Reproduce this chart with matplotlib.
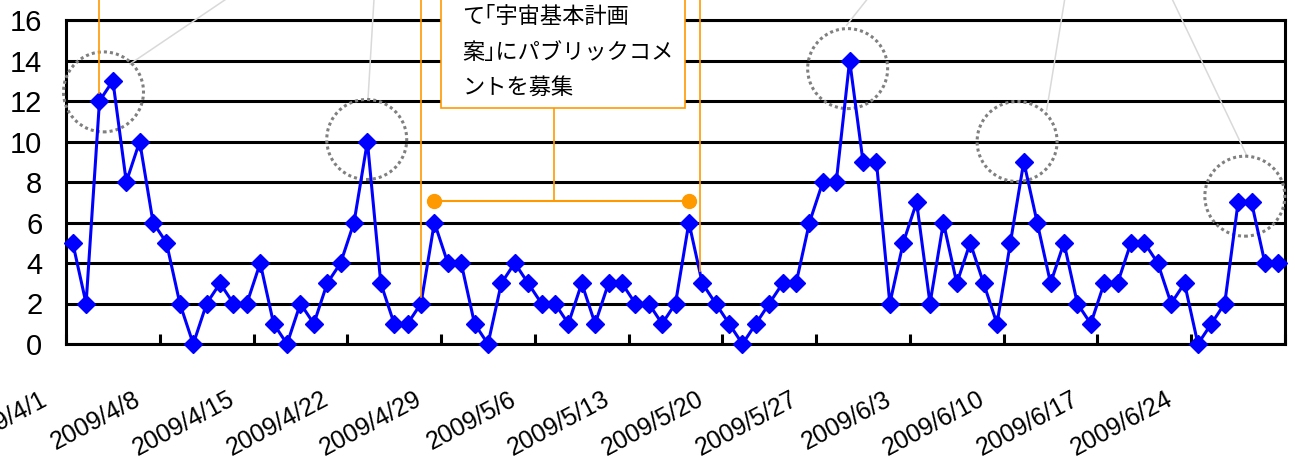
import numpy as np
import matplotlib.pyplot as plt
from matplotlib.patches import Ellipse, Rectangle
from matplotlib.transforms import ScaledTranslation

plt.rcParams['font.family'] = ['Liberation Sans', 'Noto Sans CJK JP']

# daily counts, 2009/4/1 - 2009/6/30
april = [5, 2, 12, 13, 8, 10, 6, 5, 2, 0,
         2, 3, 2, 2, 4, 1, 0, 2, 1, 3,
         4, 6, 10, 3, 1, 1, 2, 6, 4, 4]
may = [1, 0, 3, 4, 3, 2, 2, 1, 3, 1,
       3, 3, 2, 2, 1, 2, 6, 3, 2, 1,
       0, 1, 2, 3, 3, 6, 8, 8, 14, 9, 9]
june = [2, 5, 7, 2, 6, 3, 5, 3, 1, 5,
        9, 6, 3, 5, 2, 1, 3, 3, 5, 5,
        4, 2, 3, 0, 1, 2, 7, 7, 4, 4]
counts = april + may + june

months = [4] * len(april) + [5] * len(may) + [6] * len(june)
days = list(range(1, 31)) + list(range(1, 32)) + list(range(1, 31))
date_labels = [f'2009/{m}/{d}' for m, d in zip(months, days)]

callout_text = ['て｢宇宙基本計画', '案｣にパブリックコメ', 'ントを募集']

orange = '#FF9900'
W, H = 1295, 466

fig = plt.figure(figsize=(W / 100, H / 100), dpi=100)
ax = fig.add_axes([66 / W, 1 - 344 / H, 1219 / W, 324 / H])

x = np.arange(len(counts))
ax.plot(x, counts, color='#0000FF', lw=2.2, marker='D', ms=9,
        zorder=5, clip_on=False)

ax.set_xlim(-0.5, len(counts) - 0.5)
ax.set_ylim(0, 16)
ax.set_yticks(np.arange(0, 17, 2))
ax.yaxis.grid(True, color='black', lw=2.2)
ax.set_axisbelow(True)
ax.tick_params(axis='y', length=0, pad=17, labelsize=21)

# tick marks between weeks, labels on every 7th day
ax.set_xticks(np.arange(-0.5, len(counts) + 0.5, 7))
ax.set_xticklabels([])
ax.tick_params(axis='x', which='major', direction='in', length=7,
               width=2.2, color='black')
ax.set_xticks(x[::7], minor=True)
ax.set_xticklabels(date_labels[::7], minor=True, rotation=28, ha='right',
                   va='top', rotation_mode='anchor', fontsize=18)
ax.tick_params(axis='x', which='minor', length=0, pad=31)
off = ScaledTranslation(-33 / 100, 0, fig.dpi_scale_trans)
for lab in ax.get_xticklabels(minor=True):
    lab.set_transform(lab.get_transform() + off)

for s in ax.spines.values():
    s.set_linewidth(2.2)

# orange leader lines from callouts above (cut off)
for d, y0 in [(2, 12.4), (26, 2.3), (46.8, 3.6)]:
    ax.plot([d, d], [y0, 17.2], color=orange, lw=1.2, clip_on=False, zorder=7)

# comment period bracket
ax.plot([27, 46], [7.05, 7.05], color=orange, lw=1.5, marker='o', ms=10,
        clip_on=False, zorder=7)
ax.plot([35.9, 35.9], [7.05, 11.65], color=orange, lw=1.2, clip_on=False, zorder=7)

box = Rectangle((27.5, 11.65), 45.7 - 27.5, 7, facecolor='white',
                edgecolor=orange, lw=1.2, clip_on=False, zorder=8)
ax.add_patch(box)
for y, line in zip([16.15, 14.4, 12.7], callout_text):
    ax.text(29.1, y, line, family=['Noto Sans CJK JP'], fontsize=16,
            va='center', ha='left', zorder=9)

# dotted circles around peaks
circles = [(2.3, 12.45), (21.95, 10.1), (57.85, 13.6), (70.5, 10.0), (87.5, 7.3)]
for cx, cy in circles:
    ax.add_patch(Ellipse((cx, cy), 80 / 13.4, 80 / 20.25, fill=False,
                         edgecolor='#808080', lw=2.2, linestyle=(0, (1, 1)),
                         clip_on=False, zorder=4))

# gray leader lines to callouts above
leaders = [((4.28, 13.83), (11.38, 17.0)),
           ((22.04, 12.05), (22.49, 17.0)),
           ((57.78, 15.75), (59.28, 17.0)),
           ((72.71, 11.56), (74.05, 17.0)),
           ((87.7, 9.23), (82.1, 17.0))]
for (x0, y0), (x1, y1) in leaders:
    ax.plot([x0, x1], [y0, y1], color='#D9D9D9', lw=1.1, clip_on=False, zorder=3)

fig.savefig('out.png', dpi=100)
